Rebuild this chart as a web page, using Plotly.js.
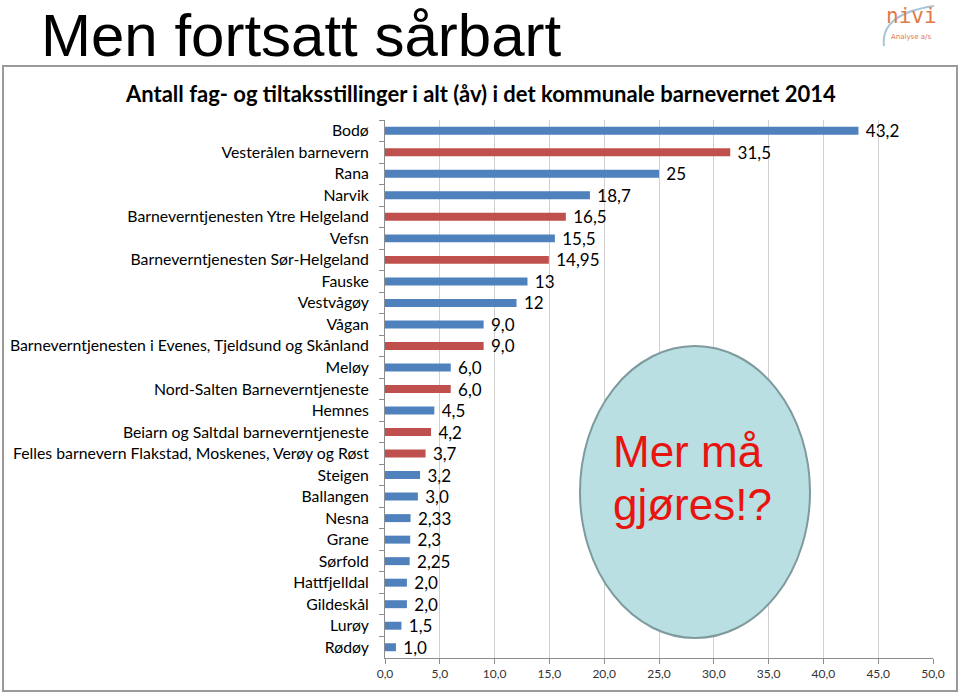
<!DOCTYPE html>
<html>
<head>
<meta charset="utf-8">
<script src="https://cdn.plot.ly/plotly-3.0.1.min.js"></script>
<style>html,body{margin:0;padding:0;background:#fff;} #chart{width:960px;height:694px;}</style>
</head>
<body>
<div id="chart"></div>
<script>
// ---- Data ----
const categories = [
  "Bodø", "Vesterålen barnevern", "Rana", "Narvik",
  "Barneverntjenesten Ytre Helgeland", "Vefsn",
  "Barneverntjenesten Sør-Helgeland", "Fauske", "Vestvågøy", "Vågan",
  "Barneverntjenesten i Evenes, Tjeldsund og Skånland", "Meløy",
  "Nord-Salten Barneverntjeneste", "Hemnes",
  "Beiarn og Saltdal barneverntjeneste",
  "Felles barnevern Flakstad, Moskenes, Verøy og Røst",
  "Steigen", "Ballangen", "Nesna", "Grane", "Sørfold",
  "Hattfjelldal", "Gildeskål", "Lurøy", "Rødøy"
];
const values = [43.2, 31.5, 25, 18.7, 16.5, 15.5, 14.95, 13, 12, 9.0, 9.0, 6.0, 6.0,
                4.5, 4.2, 3.7, 3.2, 3.0, 2.33, 2.3, 2.25, 2.0, 2.0, 1.5, 1.0];
const valueLabels = ["43,2","31,5","25","18,7","16,5","15,5","14,95","13","12","9,0","9,0","6,0","6,0",
                     "4,5","4,2","3,7","3,2","3,0","2,33","2,3","2,25","2,0","2,0","1,5","1,0"];
// true = interkommunalt samarbeid (red bars)
const interkommunal = [false,true,false,false,true,false,true,false,false,false,true,false,true,
                       false,true,true,false,false,false,false,false,false,false,false,false];
const xTicks = [0,5,10,15,20,25,30,35,40,45,50];

// ---- Styling ----
const BLUE = "#4F81BD", RED = "#C0504D";
const W = 960, H = 694, L = 385, R = 933, T = 120, B = 658;
const px = x => (x - L) / (R - L);
const py = y => (B - y) / (B - T);

const trace = {
  type: "bar",
  orientation: "h",
  y: categories,
  x: values,
  text: valueLabels.map(s => " " + s),
  textposition: "outside",
  constraintext: "none",
  cliponaxis: false,
  textfont: {family: "Lato, sans-serif", size: 17, color: "#000"},
  marker: {color: interkommunal.map(r => r ? RED : BLUE)},
  hoverinfo: "skip"
};

const layout = {
  width: W, height: H,
  margin: {l: L, r: W - R, t: T, b: H - B, pad: 0},
  paper_bgcolor: "#fff", plot_bgcolor: "#fff",
  separators: ", ",
  showlegend: false,
  bargap: 0.63,
  xaxis: {
    range: [0, 50], tickvals: xTicks, tickformat: ".1f",
    showgrid: true, gridcolor: "#D0D0D0", gridwidth: 1,
    zeroline: false, showline: true, linecolor: "#8C8C8C", linewidth: 1,
    ticks: "outside", ticklen: 5, tickcolor: "#8C8C8C",
    tickfont: {family: "Lato, sans-serif", size: 12, color: "#333"}
  },
  yaxis: {
    autorange: "reversed", type: "category",
    showgrid: false, zeroline: false, showline: true, linecolor: "#8C8C8C", linewidth: 1,
    ticks: "outside", tickson: "boundaries", ticklen: 5, tickcolor: "#8C8C8C",
    ticklabelstandoff: 12,
    tickfont: {family: "Lato, sans-serif", size: 15.8, color: "#000"}
  },
  shapes: [
    {type: "rect", xref: "paper", yref: "paper", x0: px(3), x1: px(957), y0: py(691), y1: py(66),
     line: {color: "#9A9A9A", width: 2}, fillcolor: "rgba(0,0,0,0)", layer: "below"},
    {type: "circle", xref: "paper", yref: "paper", x0: px(580), x1: px(810), y0: py(638), y1: py(346),
     line: {color: "#7E9A9D", width: 2}, fillcolor: "#B9DFE3", layer: "above"},
    {type: "path", xref: "paper", yref: "paper",
     path: "M " + px(884) + "," + py(46) + " Q " + px(880) + "," + py(14) + " " + px(934) + "," + py(6),
     line: {color: "#A9C4D6", width: 2}}
  ],
  annotations: [
    {text: "Men fortsatt sårbart", xref: "paper", yref: "paper", x: px(39), y: py(35),
     xanchor: "left", yanchor: "middle", showarrow: false,
     font: {family: "Liberation Sans, Arial, sans-serif", size: 60, color: "#000"}},
    {text: "<b>Antall fag- og tiltaksstillinger i alt (åv) i det kommunale barnevernet 2014</b>",
     xref: "paper", yref: "paper", x: px(480), y: py(93), xanchor: "center", yanchor: "middle",
     showarrow: false, font: {family: "Lato, sans-serif", size: 22, color: "#000"}},
    {text: "Mer må", xref: "paper", yref: "paper", x: px(611), y: py(451), xanchor: "left", yanchor: "middle",
     showarrow: false, font: {family: "Liberation Sans, Arial, sans-serif", size: 44, color: "#E8140F"}},
    {text: "gjøres!?", xref: "paper", yref: "paper", x: px(611), y: py(504), xanchor: "left", yanchor: "middle",
     showarrow: false, font: {family: "Liberation Sans, Arial, sans-serif", size: 44, color: "#E8140F"}},
    {text: "nivi", xref: "paper", yref: "paper", x: px(911), y: py(30), xanchor: "center", yanchor: "bottom",
     showarrow: false, font: {family: "DejaVu Sans Mono, monospace", size: 21, color: "#E07A4A"}},
    {text: "Analyse a/s", xref: "paper", yref: "paper", x: px(911), y: py(31), xanchor: "center", yanchor: "top",
     showarrow: false, font: {family: "DejaVu Sans, sans-serif", size: 7, color: "#E07A4A"}}
  ]
};

Plotly.newPlot("chart", [trace], layout, {staticPlot: true, displayModeBar: false});
</script>
</body>
</html>
